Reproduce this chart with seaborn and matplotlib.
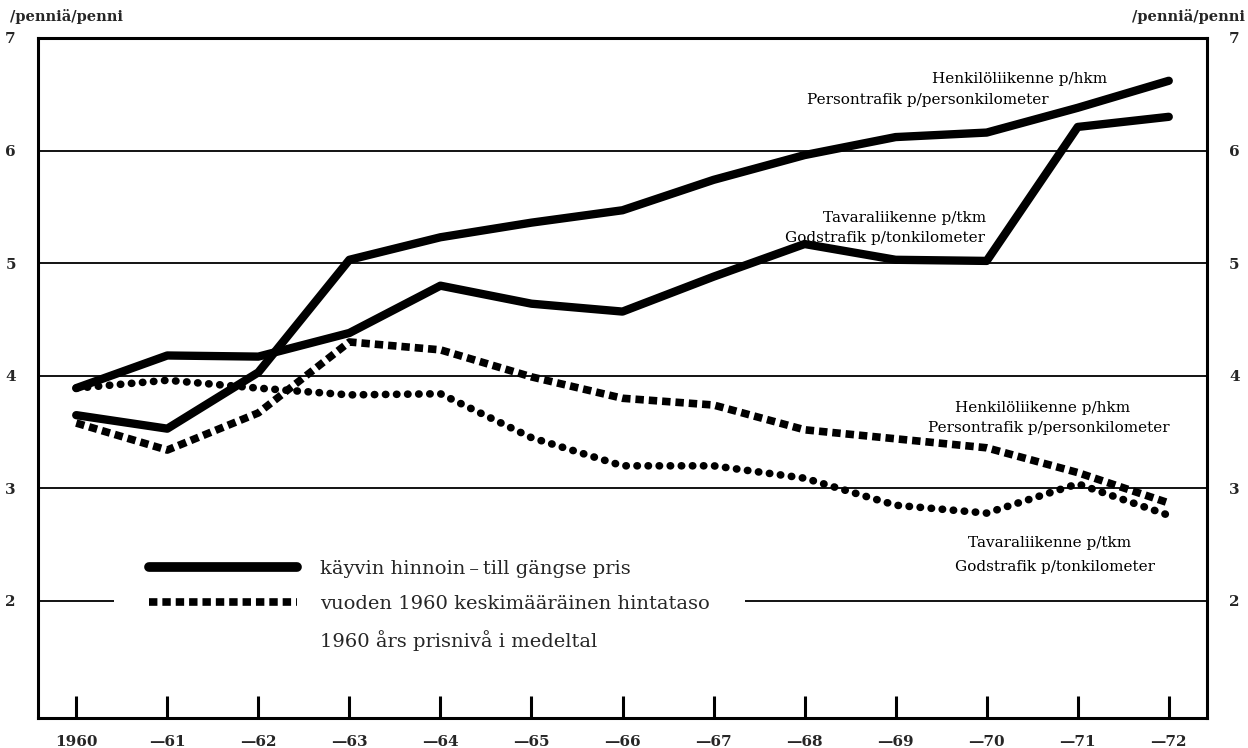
import matplotlib
matplotlib.use("Agg")
import matplotlib.pyplot as plt
import seaborn as sns
from matplotlib.lines import Line2D

# ------------------------------------------------------------
# Data (penniä per km)
# ------------------------------------------------------------
years = list(range(1960, 1973))
year_labels = ["1960"] + ["\u2014" + str(y)[2:] for y in years[1:]]

pass_current = [3.65, 3.53, 4.03, 5.03, 5.23, 5.36, 5.47, 5.74, 5.96, 6.12, 6.16, 6.38, 6.62]
freight_current = [3.89, 4.18, 4.17, 4.38, 4.80, 4.64, 4.57, 4.88, 5.17, 5.03, 5.02, 6.21, 6.30]
pass_1960 = [3.58, 3.34, 3.67, 4.30, 4.23, 3.99, 3.80, 3.74, 3.52, 3.44, 3.36, 3.14, 2.87]
freight_1960 = [3.89, 3.96, 3.89, 3.83, 3.84, 3.45, 3.20, 3.20, 3.09, 2.85, 2.78, 3.04, 2.76]

y_ticks = [2, 3, 4, 5, 6, 7]
unit_label = "/penniä/penni"

legend_labels = [
    "käyvin hinnoin\u2009\u2013\u2009till gängse pris",
    "vuoden 1960 keskimääräinen hintataso",
    "1960 års prisnivå i medeltal",
]

# ------------------------------------------------------------
# Style
# ------------------------------------------------------------
sns.set_theme(style="white")
plt.rcParams["font.family"] = ["DejaVu Serif", "DejaVu Sans"]

fig = plt.figure(figsize=(12.48, 7.48), dpi=100)
ax = fig.add_axes([38 / 1248, 30 / 748, 1169 / 1248, 680 / 748])

dash_style = (0, (1.1, 0.65))
dot_style = (0, (0.05, 1.4))

sns.lineplot(x=years, y=pass_current, ax=ax, color="black", lw=6,
             solid_capstyle="round", solid_joinstyle="round")
sns.lineplot(x=years, y=freight_current, ax=ax, color="black", lw=6,
             solid_capstyle="round", solid_joinstyle="round")
sns.lineplot(x=years, y=pass_1960, ax=ax, color="black", lw=5.5,
             linestyle=dash_style, dash_capstyle="butt")
sns.lineplot(x=years, y=freight_1960, ax=ax, color="black", lw=5.5,
             linestyle=dot_style, dash_capstyle="round")

ax.set_xlim(1959.58, 1972.42)
ax.set_ylim(0.96, 7)

# gridlines
for v in y_ticks[:-1]:
    ax.axhline(v, color="black", lw=1.3, zorder=0)

ax.set_xticks(years)
ax.set_xticklabels(year_labels, fontsize=11, fontweight="bold")
ax.tick_params(axis="x", bottom=True, direction="in", length=16, width=2.2,
               color="black", pad=12)

ax.set_yticks(y_ticks)
ax.set_yticklabels([str(v) for v in y_ticks], fontsize=11, fontweight="bold")
ax.tick_params(axis="y", length=0, pad=16, labelright=True, right=False)

for side in ["left", "right", "top", "bottom"]:
    ax.spines[side].set_visible(True)
    ax.spines[side].set_color("black")
    ax.spines[side].set_linewidth(2.2)

fig.text(10 / 1248, 1 - 17 / 748, unit_label, ha="left", va="center", fontsize=10.5, fontweight="bold")
fig.text(1245 / 1248, 1 - 17 / 748, unit_label, ha="right", va="center", fontsize=10.5, fontweight="bold")

# line annotations
txt = dict(fontsize=11, color="black", transform=fig.transFigure)
fig.text(1020 / 1248, 1 - 79 / 748, "Henkilöliikenne p/hkm", ha="center", va="center", **txt)
fig.text(928 / 1248, 1 - 100 / 748, "Persontrafik p/personkilometer", ha="center", va="center", **txt)
fig.text(905 / 1248, 1 - 218 / 748, "Tavaraliikenne p/tkm", ha="center", va="center", **txt)
fig.text(885 / 1248, 1 - 238 / 748, "Godstrafik p/tonkilometer", ha="center", va="center", **txt)
fig.text(1043 / 1248, 1 - 408 / 748, "Henkilöliikenne p/hkm", ha="center", va="center", **txt)
fig.text(1049 / 1248, 1 - 428 / 748, "Persontrafik p/personkilometer", ha="center", va="center", **txt)
fig.text(1050 / 1248, 1 - 543 / 748, "Tavaraliikenne p/tkm", ha="center", va="center", **txt)
fig.text(1055 / 1248, 1 - 567 / 748, "Godstrafik p/tonkilometer", ha="center", va="center", **txt)

# legend
handles = [
    Line2D([], [], color="black", lw=7, solid_capstyle="round"),
    Line2D([], [], color="black", lw=5.5, linestyle=(0, (1.1, 0.65))),
    Line2D([], [], color="none", lw=0),
]
leg = ax.legend(handles, legend_labels, loc="upper left",
                bbox_to_anchor=((114 - 38) / 1169, (718 - 525) / 680),
                frameon=True, facecolor="white", edgecolor="none", framealpha=1,
                fontsize=14, handlelength=7.6, handletextpad=1.2,
                borderpad=1.8, labelspacing=0.88, borderaxespad=0)
leg.set_zorder(5)

fig.savefig("out.png", dpi=100, facecolor="white")
